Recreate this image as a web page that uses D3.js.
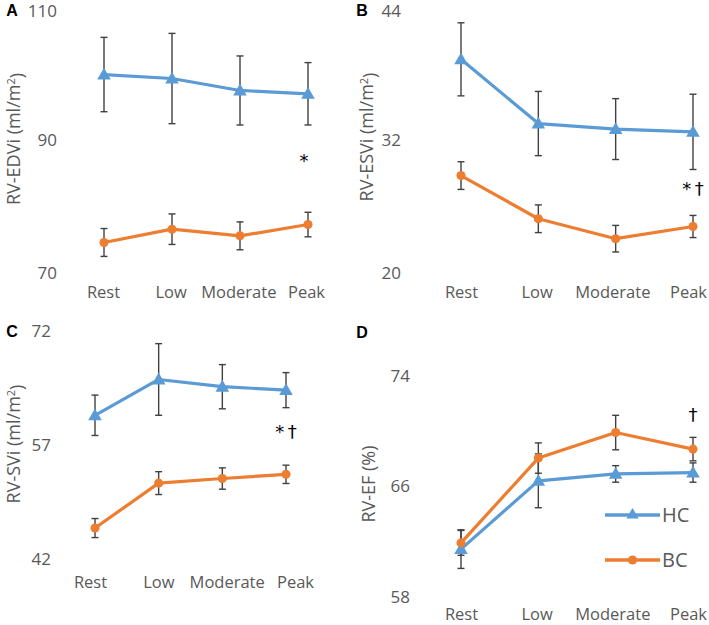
<!DOCTYPE html>
<html><head><meta charset="utf-8">
<script src="https://cdn.jsdelivr.net/npm/d3@7"></script>
<style>body{margin:0;background:#fff}svg{display:block}text{font-family:"Open Sans",sans-serif}</style>
</head><body><svg id="c" width="709" height="625"></svg>
<script>
const categories = ["Rest","Low","Moderate","Peak"];
const seriesNames = ["HC","BC"];
const edviHC = [99.9, 99.3, 97.5, 97.0], edviHCErr = [5.6, 6.8, 5.2, 4.7];
const edviBC = [74.6, 76.6, 75.6, 77.3], edviBCErr = [2.1, 2.3, 2.1, 1.85];
const esviHC = [39.3, 33.5, 33.0, 32.75], esviHCErr = [3.3, 2.9, 2.75, 3.4];
const esviBC = [28.8, 24.9, 23.1, 24.2], esviBCErr = [1.25, 1.25, 1.2, 1.0];
const sviHC = [60.9, 65.6, 64.65, 64.2], sviHCErr = [2.65, 4.7, 2.9, 2.3];
const sviBC = [46.1, 52.0, 52.6, 53.15], sviBCErr = [1.25, 1.5, 1.4, 1.2];
const efHC = [61.45, 66.4, 66.9, 67.0], efHCErr = [1.4, 1.95, 0.6, 0.7];
const efBC = [61.9, 68.05, 69.9, 68.7], efBCErr = [0.9, 1.1, 1.25, 0.85];
const ticksA = [70, 90, 110], ticksB = [20, 32, 44], ticksC = [42, 57, 72], ticksD = [58, 66, 74];

const panels = [
 {letter:"A", title:"RV-EDVi (ml/m", hc:edviHC, hcE:edviHCErr, bc:edviBC, bcE:edviBCErr, ticks:ticksA,
  x:[104,308], lx:[103,306], y:[273,7.5], tickX:57, labelY:292, titleX:14, titleY:139, letterPos:[12,10],
  note:"*", noteVal:86.9, noteDx:-4},
 {letter:"B", title:"RV-ESVi (ml/m", hc:esviHC, hcE:esviHCErr, bc:esviBC, bcE:esviBCErr, ticks:ticksB,
  x:[461,693], lx:[461,688], y:[273,7.3], tickX:401, labelY:292, titleX:367, titleY:137, letterPos:[362,10],
  note:"*\u2009†", noteVal:27.6, noteDx:0},
 {letter:"C", title:"RV-SVi (ml/m", hc:sviHC, hcE:sviHCErr, bc:sviBC, bcE:sviBCErr, ticks:ticksC,
  x:[95,286], lx:[90,295], y:[559.3,330.7], tickX:51, labelY:582, titleX:14, titleY:444, letterPos:[12,331],
  note:"*\u2009†", noteVal:58.7, noteDx:0},
 {letter:"D", title:"RV-EF (%)", hc:efHC, hcE:efHCErr, bc:efBC, bcE:efBCErr, ticks:ticksD,
  x:[461,693], lx:[461,688], y:[596.7,376], tickX:410, labelY:614, titleX:369, titleY:484, letterPos:[362,332],
  note:"†", noteVal:71.2, noteDx:0, legend:true, noSup:true}
];
const colHC = "#5B9BD5", colBC = "#ED7D31", errCol = "#404040", txtCol = "#595959";
const FONT = "'Open Sans',sans-serif";
const svg = d3.select("#c");

panels.forEach(p => {
  const g = svg.append("g");
  const x = d3.scalePoint().domain(categories).range(p.x);
  const xl = d3.scalePoint().domain(categories).range(p.lx);
  const y = d3.scaleLinear().domain([p.ticks[0], p.ticks[p.ticks.length-1]]).range(p.y);

  const ya = g.append("g").attr("transform",`translate(${p.tickX},0)`)
    .call(d3.axisLeft(y).tickValues(p.ticks).tickSize(0).tickPadding(0));
  ya.select(".domain").remove();
  ya.selectAll("text").attr("fill",txtCol).style("font-size","17px").style("font-family",FONT)
    .attr("y",d => d === p.ticks[p.ticks.length-1] && p.y[1] < 20 ? 3.5 : 0);

  const xa = g.append("g").attr("transform",`translate(0,${p.labelY})`)
    .call(d3.axisBottom(xl).tickSize(0).tickPadding(0));
  xa.select(".domain").remove();
  xa.selectAll("text").attr("fill",txtCol).attr("dy","0.35em").attr("y",0).style("font-size","16.5px").style("font-family",FONT);

  const t = g.append("text").attr("transform",`translate(${p.titleX},${p.titleY}) rotate(-90)`)
    .attr("text-anchor","middle").attr("dy","0.35em").attr("fill",txtCol).style("font-size","18px");
  t.append("tspan").text(p.title);
  if (!p.noSup) {
    t.append("tspan").attr("dy","-0.45em").style("font-size","11px").text("2");
    t.append("tspan").attr("dy","0.45em").text(")");
  }
  g.append("text").attr("x",p.letterPos[0]).attr("y",p.letterPos[1]).attr("dy","0.36em")
    .attr("text-anchor","middle").attr("font-weight","bold").attr("fill","#000").style("font-size","16px")
    .style("font-family","'Liberation Sans',Arial,sans-serif").text(p.letter);

  const series = [
    {name:"HC", v:p.hc, e:p.hcE, col:colHC, shape:"tri"},
    {name:"BC", v:p.bc, e:p.bcE, col:colBC, shape:"circ"}
  ];
  series.forEach(s => {
    const eg = g.append("g").attr("stroke",errCol).attr("stroke-width",1.4);
    categories.forEach((c,i) => {
      const cx = x(c), tt = y(s.v[i]+s.e[i]), b = y(s.v[i]-s.e[i]);
      eg.append("line").attr("x1",cx).attr("x2",cx).attr("y1",tt).attr("y2",b);
      eg.append("line").attr("x1",cx-3.5).attr("x2",cx+3.5).attr("y1",tt).attr("y2",tt);
      eg.append("line").attr("x1",cx-3.5).attr("x2",cx+3.5).attr("y1",b).attr("y2",b);
    });
  });
  const line = d3.line().x((d,i)=>x(categories[i])).y(d=>y(d));
  series.forEach(s => {
    g.append("path").datum(s.v).attr("d",line).attr("fill","none").attr("stroke",s.col).attr("stroke-width",3.2).attr("stroke-linejoin","round");
    const sym = d3.symbol().type(s.shape==="tri"?d3.symbolTriangle:d3.symbolCircle).size(s.shape==="tri"?80:65);
    g.selectAll(null).data(s.v).enter().append("path").attr("d",sym)
      .attr("transform",(d,i)=>`translate(${x(categories[i])},${y(d)+(s.shape==="tri"?1:0)})`).attr("fill",s.col);
  });
  g.append("text").attr("x",x("Peak")+p.noteDx).attr("y",y(p.noteVal)).attr("dy","0.35em").attr("text-anchor","middle")
    .attr("fill","#000").style("font-size","18px").style("font-family","'DejaVu Sans',sans-serif").text(p.note);

  if (p.legend) {
    const lg = g.append("g");
    [["HC",colHC,d3.symbolTriangle,515],["BC",colBC,d3.symbolCircle,560]].forEach(([n,col,st,ly]) => {
      lg.append("line").attr("x1",605).attr("x2",660).attr("y1",ly).attr("y2",ly).attr("stroke",col).attr("stroke-width",3.5);
      lg.append("path").attr("d",d3.symbol().type(st).size(65)).attr("transform",`translate(632.5,${ly})`).attr("fill",col);
      lg.append("text").attr("x",662).attr("y",ly).attr("dy","0.36em").attr("fill",txtCol).style("font-size","20px").text(n);
    });
  }
});
</script></body></html>
